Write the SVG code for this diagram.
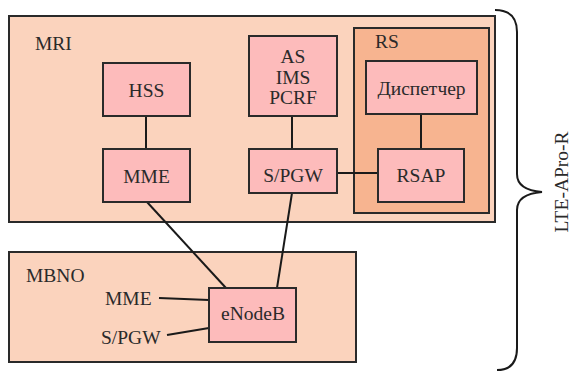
<svg xmlns="http://www.w3.org/2000/svg" width="571" height="372" viewBox="0 0 571 372">
<style>
.area{fill:#FBD3BD;stroke:#2a2a2a;stroke-width:2}
.rs{fill:#F7B490;stroke:#2a2a2a;stroke-width:2}
.node{fill:#FDBBBB;stroke:#2a2a2a;stroke-width:2}
.t{font-family:"Liberation Serif","Times New Roman",serif;font-size:19.5px;fill:#2a2a2a}
.c{text-anchor:middle}
.ln{stroke:#1a1a1a;stroke-width:2;fill:none}
</style>
<rect width="571" height="372" fill="#ffffff"/>
<g id="MRI">
<rect class="area" x="9" y="16" width="486" height="206"/>
<text class="t" x="35" y="50">MRI</text>
</g>
<g id="RS">
<rect class="rs" x="354" y="28" width="135" height="185"/>
<text class="t" x="375" y="48">RS</text>
</g>
<g id="MBNO">
<rect class="area" x="9" y="252" width="347" height="110"/>
<text class="t" x="26" y="282">MBNO</text>
<text class="t" x="105" y="305">MME</text>
<text class="t" x="101" y="344">S/PGW</text>
</g>
<g id="connectors">
<line class="ln" x1="146" y1="116" x2="146" y2="149"/>
<line class="ln" x1="292" y1="116" x2="292" y2="149"/>
<line class="ln" x1="421" y1="114" x2="421" y2="149"/>
<line class="ln" x1="337" y1="173" x2="378" y2="173"/>
<line class="ln" x1="147" y1="202" x2="226" y2="288"/>
<line class="ln" x1="292" y1="193" x2="277" y2="288"/>
<line class="ln" x1="159" y1="298" x2="209" y2="300"/>
<line class="ln" x1="167" y1="335" x2="209" y2="328"/>
</g>
<g id="HSS">
<rect class="node" x="103" y="63" width="87" height="53"/>
<text class="t c" x="146.5" y="97">HSS</text>
</g>
<g id="MME">
<rect class="node" x="103" y="149" width="87" height="53"/>
<text class="t c" x="146.5" y="183">MME</text>
</g>
<g id="AS_IMS_PCRF">
<rect class="node" x="249" y="36" width="88" height="80"/>
<text class="t c" x="293" y="63">AS</text>
<text class="t c" x="293" y="84">IMS</text>
<text class="t c" x="293" y="104">PCRF</text>
</g>
<g id="SPGW">
<rect class="node" x="249" y="149" width="88" height="44"/>
<text class="t c" x="293" y="182">S/PGW</text>
</g>
<g id="Dispatcher">
<rect class="node" x="366" y="61" width="111" height="53"/>
<text class="t c" x="421.5" y="95">Диспетчер</text>
</g>
<g id="RSAP">
<rect class="node" x="378" y="149" width="86" height="53"/>
<text class="t c" x="421" y="182">RSAP</text>
</g>
<g id="eNodeB">
<rect class="node" x="209" y="288" width="87" height="54"/>
<text class="t c" x="253" y="320">eNodeB</text>
</g>
<g id="brace">
<path class="ln" d="M495 10 Q517 10 517 32 L517 174 Q517 190 542 192 Q517 194 517 210 L517 348 Q517 370 497 370"/>
<text class="t c" transform="translate(568 182) rotate(-90)">LTE-APro-R</text>
</g>
</svg>
